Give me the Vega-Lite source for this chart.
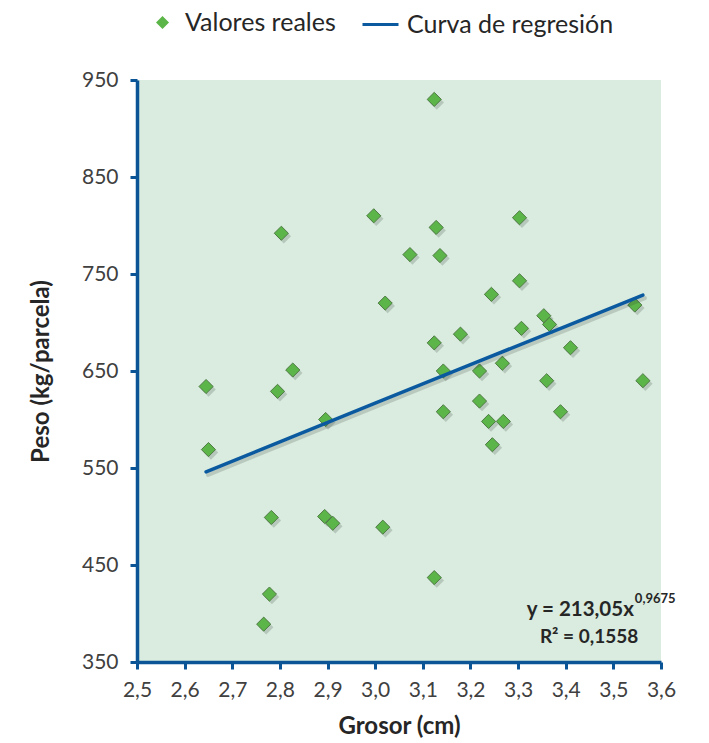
{
  "$schema": "https://vega.github.io/schema/vega-lite/v6.json",
  "width": 524,
  "height": 582,
  "autosize": "none",
  "padding": {"left": 137, "top": 80, "right": 48, "bottom": 81},
  "background": "white",
  "datasets": {
    "puntos": [
      {"grosor": 3.124, "peso": 930},
      {"grosor": 3.303, "peso": 808},
      {"grosor": 2.997, "peso": 810},
      {"grosor": 2.803, "peso": 792},
      {"grosor": 3.128, "peso": 798},
      {"grosor": 3.073, "peso": 770},
      {"grosor": 3.136, "peso": 769},
      {"grosor": 3.021, "peso": 720},
      {"grosor": 3.244, "peso": 729},
      {"grosor": 3.303, "peso": 743},
      {"grosor": 3.354, "peso": 707},
      {"grosor": 3.366, "peso": 698},
      {"grosor": 3.307, "peso": 694},
      {"grosor": 3.179, "peso": 688},
      {"grosor": 3.124, "peso": 679},
      {"grosor": 3.41, "peso": 674},
      {"grosor": 3.143, "peso": 650},
      {"grosor": 3.219, "peso": 650},
      {"grosor": 3.267, "peso": 658},
      {"grosor": 2.827, "peso": 651},
      {"grosor": 2.645, "peso": 634},
      {"grosor": 2.795, "peso": 629},
      {"grosor": 3.36, "peso": 640},
      {"grosor": 3.562, "peso": 640},
      {"grosor": 3.143, "peso": 608},
      {"grosor": 3.219, "peso": 619},
      {"grosor": 3.238, "peso": 598},
      {"grosor": 3.269, "peso": 598},
      {"grosor": 3.389, "peso": 608},
      {"grosor": 3.246, "peso": 574},
      {"grosor": 2.896, "peso": 600},
      {"grosor": 2.65, "peso": 569},
      {"grosor": 2.782, "peso": 499},
      {"grosor": 2.894, "peso": 500},
      {"grosor": 2.911, "peso": 493},
      {"grosor": 3.016, "peso": 489},
      {"grosor": 2.778, "peso": 420},
      {"grosor": 2.766, "peso": 389},
      {"grosor": 3.124, "peso": 437},
      {"grosor": 3.545, "peso": 718}
    ],
    "curva": [
      {"grosor": 2.645, "peso": 546},
      {"grosor": 2.8, "peso": 577},
      {"grosor": 3.0, "peso": 616.8},
      {"grosor": 3.2, "peso": 656.5},
      {"grosor": 3.4, "peso": 696.1},
      {"grosor": 3.562, "peso": 728.2}
    ],
    "nota": [
      {"ecuacion": "y = 213,05x", "exponente": "0,9675", "r2": "R² = 0,1558"}
    ]
  },
  "config": {
    "font": "Lato",
    "view": {"fill": "#d9ecdf", "stroke": null},
    "axis": {
      "domainColor": "#0b5596",
      "domainWidth": 3.5,
      "tickColor": "#0b5596",
      "tickWidth": 3,
      "tickSize": 7,
      "grid": false,
      "labelFont": "Lato",
      "labelFontSize": 21,
      "labelColor": "#404040",
      "labelFlush": false,
      "titleFont": "Lato",
      "titleFontSize": 24,
      "titleFontWeight": "bold",
      "titleColor": "#262626"
    },
    "legend": {
      "labelFont": "Lato",
      "labelFontSize": 25,
      "labelColor": "#262626",
      "labelLimit": 0,
      "padding": 0
    }
  },
  "layer": [
    {
      "data": {"name": "puntos"},
      "mark": {"type": "point", "shape": "diamond", "filled": true, "color": "#2f3a2f", "opacity": 0.2, "size": 210, "xOffset": 2.5, "yOffset": 3},
      "encoding": {
        "x": {
          "field": "grosor",
          "type": "quantitative",
          "scale": {"domain": [2.5, 3.6], "nice": false, "zero": false},
          "axis": {
            "title": "Grosor (cm)",
            "values": [2.5, 2.6, 2.7, 2.8, 2.9, 3.0, 3.1, 3.2, 3.3, 3.4, 3.5, 3.6],
            "labelExpr": "replace(format(datum.value, '.1f'), '.', ',')",
            "labelPadding": 10,
            "titlePadding": 14
          }
        },
        "y": {
          "field": "peso",
          "type": "quantitative",
          "scale": {"domain": [350, 950], "nice": false, "zero": false},
          "axis": {
            "title": "Peso (kg/parcela)",
            "values": [350, 450, 550, 650, 750, 850, 950],
            "labelPadding": 12,
            "titlePadding": 28
          }
        }
      }
    },
    {
      "data": {"name": "puntos"},
      "mark": {"type": "point", "shape": "diamond", "filled": true, "opacity": 1, "size": 200, "stroke": "#4f7a45", "strokeWidth": 1},
      "encoding": {
        "x": {"field": "grosor", "type": "quantitative"},
        "y": {"field": "peso", "type": "quantitative"},
        "fill": {
          "datum": "Valores reales",
          "type": "nominal",
          "scale": {"range": ["#5cb548"]},
          "legend": {
            "title": null,
            "orient": "none",
            "legendX": 13,
            "legendY": -70,
            "symbolType": "diamond",
            "symbolSize": 170,
            "symbolStrokeColor": "#4f7a45",
            "symbolStrokeWidth": 0,
            "labelOffset": 10
          }
        }
      }
    },
    {
      "data": {"name": "curva"},
      "mark": {"type": "line", "color": "#2f2f2f", "opacity": 0.18, "strokeWidth": 4, "xOffset": 2, "yOffset": 3, "strokeCap": "round"},
      "encoding": {
        "x": {"field": "grosor", "type": "quantitative"},
        "y": {"field": "peso", "type": "quantitative"}
      }
    },
    {
      "data": {"name": "curva"},
      "mark": {"type": "line", "strokeWidth": 3.5, "strokeCap": "round"},
      "encoding": {
        "x": {"field": "grosor", "type": "quantitative"},
        "y": {"field": "peso", "type": "quantitative"},
        "stroke": {
          "datum": "Curva de regresión",
          "type": "nominal",
          "scale": {"range": ["#0b5aa0"]},
          "legend": {
            "title": null,
            "orient": "none",
            "legendX": 224,
            "legendY": -75,
            "symbolType": "stroke",
            "symbolSize": 1296,
            "symbolStrokeWidth": 3,
            "labelOffset": 7
          }
        }
      }
    },
    {
      "data": {"name": "nota"},
      "mark": {"type": "text", "align": "right", "baseline": "alphabetic", "font": "Lato", "fontSize": 20.5, "fontWeight": "bold", "fill": "#262626"},
      "encoding": {
        "x": {"datum": 3.543, "type": "quantitative"},
        "y": {"datum": 397.4, "type": "quantitative"},
        "text": {"field": "ecuacion"}
      }
    },
    {
      "data": {"name": "nota"},
      "mark": {"type": "text", "align": "left", "baseline": "alphabetic", "font": "Lato", "fontSize": 13, "fontWeight": "bold", "fill": "#262626", "dx": 1},
      "encoding": {
        "x": {"datum": 3.543, "type": "quantitative"},
        "y": {"datum": 410.8, "type": "quantitative"},
        "text": {"field": "exponente"}
      }
    },
    {
      "data": {"name": "nota"},
      "mark": {"type": "text", "align": "center", "baseline": "alphabetic", "font": "Lato", "fontSize": 19, "fontWeight": "bold", "fill": "#262626"},
      "encoding": {
        "x": {"datum": 3.449, "type": "quantitative"},
        "y": {"datum": 369.6, "type": "quantitative"},
        "text": {"field": "r2"}
      }
    }
  ]
}
